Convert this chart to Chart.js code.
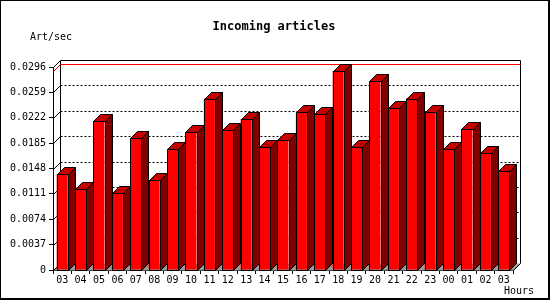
<!DOCTYPE html>
<html>
<head>
<meta charset="utf-8">
<script src="https://cdn.jsdelivr.net/npm/chart.js@4/dist/chart.umd.min.js"></script>
<style>
  body { margin: 0; background: #fff; }
  canvas { display: block; }
</style>
</head>
<body>
<canvas id="chart" width="550" height="300"></canvas>
<script>
// hour of day for each bar (last 24h + current)
const hours = ['03','04','05','06','07','08','09','10','11','12','13','14','15',
               '16','17','18','19','20','21','22','23','00','01','02','03'];
// incoming articles per second
const artPerSec = [0.0140, 0.0118, 0.0217, 0.0112, 0.0192, 0.0131, 0.0176, 0.0201,
                   0.0250, 0.0204, 0.0220, 0.0180, 0.0190, 0.0231, 0.0228, 0.0290,
                   0.0180, 0.0275, 0.0236, 0.0250, 0.0231, 0.0176, 0.0205, 0.0170,
                   0.0145];
const yTicks = [0, 0.0037, 0.0074, 0.0111, 0.0148, 0.0185, 0.0222, 0.0259, 0.0296];
const yTickLabels = ['0','0.0037','0.0074','0.0111','0.0148','0.0185','0.0222','0.0259','0.0296'];

const DX = 7, DY = 7; // depth of the 3d effect
const mono = '"DejaVu Sans Mono", monospace';

function px(v) { return Math.round(v) + 0.5; }

function poly(ctx, pts, fill, stroke) {
    ctx.beginPath();
    ctx.moveTo(pts[0][0], pts[0][1]);
    for (let i = 1; i < pts.length; i++) ctx.lineTo(pts[i][0], pts[i][1]);
    ctx.closePath();
    if (fill) { ctx.fillStyle = fill; ctx.fill(); }
    if (stroke) { ctx.strokeStyle = stroke; ctx.lineWidth = 1; ctx.stroke(); }
}

const threeD = {
    id: 'threeD',
    beforeDatasetsDraw(chart) {
        const ctx = chart.ctx;
        const a = chart.chartArea;
        const y = chart.scales.y;
        const l = px(a.left), r = px(a.right), t = px(a.top), b = px(a.bottom);
        ctx.save();
        // floor
        poly(ctx, [[l, b], [r, b], [r + DX, b - DY], [l + DX, b - DY]], '#999999', null);
        // back wall gridlines (dotted)
        ctx.strokeStyle = '#000';
        ctx.lineWidth = 1;
        ctx.setLineDash([2, 2]);
        yTicks.slice(1, -1).forEach(v => {
            const yy = px(y.getPixelForValue(v)) - DY;
            ctx.beginPath();
            ctx.moveTo(l + DX, yy);
            ctx.lineTo(r + DX, yy);
            ctx.stroke();
        });
        ctx.setLineDash([]);
        // little diagonals at each tick
        yTicks.forEach(v => {
            const yy = px(y.getPixelForValue(v));
            ctx.beginPath();
            ctx.moveTo(l, yy);
            ctx.lineTo(l + DX, yy - DY);
            ctx.stroke();
        });
        // back wall frame
        ctx.beginPath();
        ctx.moveTo(l + DX, b - DY);
        ctx.lineTo(l + DX, t - DY);
        ctx.lineTo(r + DX, t - DY);
        ctx.lineTo(r + DX, b - DY);
        ctx.lineTo(r, b);
        ctx.stroke();
        // max line
        const ym = px(y.getPixelForValue(Math.max(...artPerSec)));
        ctx.strokeStyle = '#ff0000';
        ctx.beginPath();
        ctx.moveTo(l, ym);
        ctx.lineTo(l + DX, ym - DY);
        ctx.lineTo(r + DX, ym - DY);
        ctx.stroke();
        ctx.restore();
    },
    afterDatasetsDraw(chart) {
        const ctx = chart.ctx;
        ctx.save();
        chart.getDatasetMeta(0).data.forEach(bar => {
            const xl = px(bar.x - bar.width / 2), xr = px(bar.x + bar.width / 2);
            const yt = px(bar.y), yb = px(bar.base);
            poly(ctx, [[xl, yt], [xl + DX, yt - DY], [xr + DX, yt - DY], [xr, yt]], '#c40000', '#000');
            poly(ctx, [[xr, yt], [xr + DX, yt - DY], [xr + DX, yb - DY], [xr, yb]], '#800000', '#000');
            ctx.strokeStyle = '#000';
            ctx.strokeRect(xl, yt, xr - xl, yb - yt);
        });
        ctx.restore();
    },
    afterDraw(chart) {
        const ctx = chart.ctx;
        ctx.save();
        ctx.fillStyle = '#000';
        ctx.textBaseline = 'middle';
        ctx.font = 'bold 12px ' + mono;
        ctx.textAlign = 'center';
        ctx.fillText('Incoming articles', 274, 27);
        ctx.font = '10px ' + mono;
        ctx.textAlign = 'left';
        ctx.fillText('Art/sec', 30, 37);
        ctx.fillText('Hours', 504, 291);
        // outer frame
        ctx.fillRect(0, 0, 550, 1);
        ctx.fillRect(0, 0, 1, 300);
        ctx.fillRect(548, 0, 2, 300);
        ctx.fillRect(0, 298, 550, 2);
        ctx.restore();
    }
};

new Chart(document.getElementById('chart'), {
    type: 'bar',
    data: {
        labels: hours,
        datasets: [{
            data: artPerSec,
            backgroundColor: '#ff0000',
            borderWidth: 0,
            barPercentage: 0.6,
            categoryPercentage: 1
        }]
    },
    options: {
        responsive: false,
        animation: false,
        devicePixelRatio: 1,
        layout: { padding: { left: 0, right: 37, top: 67, bottom: 0 } },
        plugins: { legend: { display: false }, tooltip: { enabled: false } },
        scales: {
            x: {
                afterFit: s => { s.height = 30; },
                grid: { offset: true, drawOnChartArea: false, tickLength: 4, color: '#000' },
                border: { color: '#000' },
                ticks: { color: '#000', padding: 0, maxRotation: 0, autoSkip: false,
                         font: { family: mono, size: 10 } }
            },
            y: {
                min: 0,
                max: 0.0296,
                afterFit: s => { s.width = 53; },
                afterBuildTicks: s => { s.ticks = yTicks.map(v => ({ value: v })); },
                grid: { drawOnChartArea: false, tickLength: 4, color: '#000' },
                border: { color: '#000' },
                ticks: { color: '#000', padding: 3,
                         font: { family: mono, size: 10 },
                         callback: (v, i) => yTickLabels[i] }
            }
        }
    },
    plugins: [threeD]
});
</script>
</body>
</html>
